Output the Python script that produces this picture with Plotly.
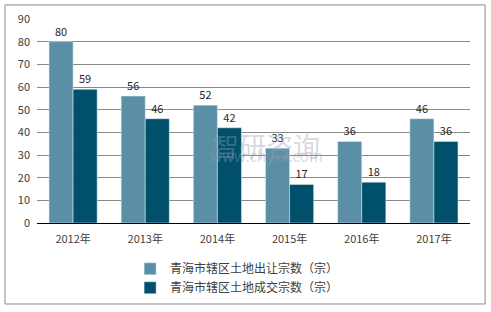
import plotly.graph_objects as go

years = ["2012年", "2013年", "2014年", "2015年", "2016年", "2017年"]
transfer = [80, 56, 52, 33, 36, 46]
deals = [59, 46, 42, 17, 18, 36]
name1 = "青海市辖区土地出让宗数（宗）"
name2 = "青海市辖区土地成交宗数（宗）"
yticks = [0, 10, 20, 30, 40, 50, 60, 70, 80, 90]

FONT = "Noto Sans CJK SC"
fig = go.Figure()
fig.add_trace(go.Bar(x=years, y=transfer, name=name1, marker_color="#5b8fa6",
                     text=transfer, textposition="outside", cliponaxis=False,
                     textfont=dict(size=11, color="#262626")))
fig.add_trace(go.Bar(x=years, y=deals, name=name2, marker_color="#00506c",
                     text=deals, textposition="outside", cliponaxis=False,
                     textfont=dict(size=11, color="#262626")))

fig.update_layout(
    width=491, height=312,
    margin=dict(l=37, r=21, t=19, b=89, autoexpand=False),
    paper_bgcolor="white", plot_bgcolor="white",
    barmode="group", bargap=0.333, bargroupgap=0,
    font=dict(family=FONT, size=11, color="#404040"),
    showlegend=True,
    legend=dict(orientation="v", x=0.215, y=0.185, xanchor="left", yanchor="top",
                xref="paper", yref="container",
                font=dict(size=12, color="#404040"), itemwidth=30,
                tracegroupgap=0, bgcolor="rgba(0,0,0,0)"),
    yaxis=dict(range=[0, 90], tickvals=yticks, showgrid=True, gridcolor="#888888",
               gridwidth=1, zeroline=False, showline=False, ticks="", automargin=False,
               ticklabelstandoff=6, tickfont=dict(size=11, color="#404040")),
    xaxis=dict(showline=True, linecolor="#000000", linewidth=1, ticks="", automargin=False,
               ticklabelstandoff=6, tickfont=dict(size=11, color="#404040")),
)
fig.update_traces(textangle=0)

fig.add_shape(type="rect", xref="paper", yref="paper",
              x0=-0.074, x1=1.035, y0=-0.397, y1=1.069,
              line=dict(color="#8c8c8c", width=1), fillcolor="rgba(0,0,0,0)", layer="below")

fig.add_annotation(text="智研咨询", xref="paper", yref="paper", x=0.53, y=0.38,
                   showarrow=False, font=dict(size=27, color="rgba(150,160,175,0.4)", family=FONT))
fig.add_annotation(text="www.chyxx.com", xref="paper", yref="paper", x=0.53, y=0.27,
                   showarrow=False, font=dict(size=15, color="rgba(150,160,175,0.4)", family=FONT))

fig.write_html("out.html")
